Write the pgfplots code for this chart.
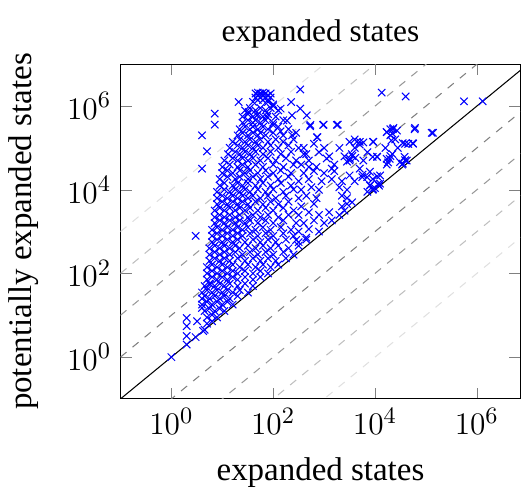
\documentclass[border=0pt]{standalone}
\usepackage{fontspec}
\setmainfont{Liberation Serif}
\usepackage{pgfplots}
\usepackage{pgfplotstable}
\pgfplotsset{compat=1.18}

\pgfplotstableread{
x y
28 7.9e5
35 9.0e5
45 7.9e5
56 9.0e5
71 7.9e5
89 9.0e5
126 7.9e5
25 5.6e5
32 6.4e5
40 5.6e5
50 6.4e5
63 5.6e5
79 6.4e5
112 5.6e5
25 4.0e5
32 4.6e5
40 4.0e5
45 4.6e5
56 4.0e5
71 4.6e5
100 4.0e5
158 4.6e5
22 2.8e5
28 3.2e5
35 2.8e5
40 3.2e5
50 2.8e5
63 3.2e5
79 2.8e5
126 3.2e5
200 2.8e5
20 2.0e5
25 2.3e5
32 2.0e5
40 2.3e5
50 2.0e5
56 2.3e5
71 2.0e5
100 2.3e5
158 2.0e5
282 2.3e5
16 1.4e5
22 1.6e5
28 1.4e5
35 1.6e5
45 1.4e5
56 1.6e5
79 1.4e5
112 1.6e5
158 1.4e5
251 1.6e5
14 1e5
20 1.15e5
25 1e5
32 1.15e5
40 1e5
50 1.15e5
63 1e5
89 1.15e5
126 1e5
200 1.15e5
316 1e5
13 7.1e4
18 8.1e4
22 7.1e4
28 8.1e4
35 7.1e4
45 8.1e4
63 7.1e4
89 8.1e4
141 7.1e4
224 8.1e4
398 7.1e4
11 5e4
16 5.7e4
20 5e4
25 5.7e4
32 5e4
40 5.7e4
56 5e4
79 5.7e4
112 5e4
178 5.7e4
282 5e4
10 3.5e4
14 4e4
20 3.5e4
25 4e4
32 3.5e4
45 4e4
63 3.5e4
100 4e4
158 3.5e4
251 4e4
501 3.5e4
10 2.5e4
12.6 2.9e4
16 2.5e4
22 2.9e4
28 2.5e4
35 2.9e4
50 2.5e4
71 2.9e4
100 2.5e4
141 2.9e4
224 2.5e4
8.9 1.8e4
12.6 2.05e4
18 1.8e4
22 2.05e4
32 1.8e4
40 2.05e4
56 1.8e4
79 2.05e4
126 1.8e4
200 2.05e4
8.9 1.26e4
11 1.45e4
16 1.26e4
20 1.45e4
25 1.26e4
32 1.45e4
45 1.26e4
63 1.45e4
89 1.26e4
141 1.45e4
224 1.26e4
7.9 8.9e3
11 1.02e4
14 8.9e3
18 1.02e4
22 8.9e3
28 1.02e4
35 8.9e3
50 1.02e4
71 8.9e3
100 1.02e4
158 8.9e3
251 1.02e4
7.9 6.3e3
10 7.2e3
12.6 6.3e3
16 7.2e3
20 6.3e3
25 7.2e3
32 6.3e3
40 7.2e3
56 6.3e3
79 7.2e3
112 6.3e3
178 7.2e3
7.9 4.5e3
10 5.2e3
12.6 4.5e3
16 5.2e3
20 4.5e3
25 5.2e3
32 4.5e3
45 5.2e3
63 4.5e3
89 5.2e3
126 4.5e3
200 5.2e3
7.1 3.2e3
8.9 3.7e3
11 3.2e3
14 3.7e3
18 3.2e3
22 3.7e3
28 3.2e3
35 3.7e3
50 3.2e3
71 3.7e3
100 3.2e3
158 3.7e3
251 3.2e3
7.1 2.2e3
8.9 2.5e3
11 2.2e3
14 2.5e3
18 2.2e3
22 2.5e3
32 2.2e3
40 2.5e3
56 2.2e3
79 2.5e3
126 2.2e3
200 2.5e3
7.1 1.6e3
8.9 1.85e3
11 1.6e3
14 1.85e3
18 1.6e3
22 1.85e3
28 1.6e3
35 1.85e3
50 1.6e3
71 1.85e3
100 1.6e3
158 1.85e3
282 1.6e3
6.3 1.1e3
7.9 1.27e3
10 1.1e3
12.6 1.27e3
16 1.1e3
20 1.27e3
25 1.1e3
32 1.27e3
45 1.1e3
63 1.27e3
89 1.1e3
141 1.27e3
224 1.1e3
6.3 790
7.9 910
10 790
12.6 910
16 790
20 910
25 790
35 910
50 790
71 910
100 790
158 910
251 790
6.3 560
7.9 645
10 560
12.6 645
16 560
20 645
28 560
40 645
56 560
79 645
112 560
178 645
316 560
447 645
5.6 400
7.1 460
8.9 400
11 460
14 400
18 460
22 400
32 460
45 400
63 460
89 400
126 460
200 400
316 460
5.6 282
7.1 325
8.9 282
11 325
14 282
18 325
25 282
35 325
50 282
71 325
100 282
158 325
251 282
5.6 200
7.1 230
8.9 200
11 230
14 200
20 230
28 200
40 230
56 200
79 230
112 200
178 230
5 141
6.3 162
7.9 141
10 162
12.6 141
16 162
22 141
32 162
45 141
63 162
89 141
126 162
5 100
6.3 115
7.9 100
10 115
12.6 100
16 115
20 100
28 115
40 100
56 115
79 100
5 71
6.3 82
7.9 71
10 82
12.6 71
16 82
20 71
28 82
40 71
56 82
4.5 50
5.6 57
7.1 50
8.9 57
11 50
14 57
20 50
28 57
40 50
4 35
5 40
6.3 35
7.9 40
10 35
12.6 40
16 35
22 40
32 35
4 25
4.5 29
5.6 25
7.1 29
8.9 25
11 29
14 25
20 29
4 18
5 21
6.3 18
7.9 21
10 18
12.6 21
16 18
4.5 12.6
5.6 14.5
7.1 12.6
8.9 14.5
11 12.6
5 8.9
6.3 10.2
7.9 8.9
5 6.3
6.3 7.2
4.5 4.5
1 1
2 2
2 3.2
2 5.5
2 8.6
3 3
3.2 7.2
4 15
4.2 4.2
5.8 55
3 790
4 2.0e5
5 8.3e4
4 3.2e4
7.1 3.6e5
7.1 6.6e5
45 2.0e6
50 1.8e6
56 2.0e6
63 1.8e6
71 2.0e6
79 1.8e6
50 1.4e6
63 1.4e6
79 1.4e6
56 1.6e6
71 1.6e6
89 1.6e6
50 2.1e6
63 2.1e6
79 1.26e6
45 1.6e6
89 2.0e6
100 1.1e6
40 1.26e6
21 1.25e6
340 2.5e6
225 1.25e6
1.35e4 2.1e6
4e4 1.7e6
5.6e5 1.3e6
1.3e6 1.3e6
100 1.0e6
140 8.7e5
235 6.0e5
340 8.7e5
458 6.0e5
33 7.2e5
48 6.0e5
76 5.5e5
186 4.5e5
530 3.3e5
980 3.6e5
1860 3.6e5
740 1.8e5
235 2.0e5
140 2.5e5
100 3.5e5
6.1e4 3.0e5
1.3e5 2.3e5
1.7e4 2.4e5
2.0e4 2.8e5
2.3e4 3.0e5
2.7e4 2.6e5
2.2e4 2.2e5
4400 1.4e5
5000 1.2e5
5900 1.35e5
9300 1.4e5
2.1e4 1.5e5
3.5e4 1.3e5
4.5e4 1.25e5
5.5e4 1.3e5
3200 5.5e4
3600 6.4e4
4100 5.8e4
9000 6.1e4
1.1e4 6.1e4
1.7e4 5.5e4
2.0e4 6.4e4
1.8e4 4.5e4
3.5e4 4.2e4
3.8e4 6.1e4
4.2e4 5.0e4
3.1e4 4.6e4
5700 2.3e4
7000 2.0e4
9000 1.8e4
1.1e4 2.1e4
8000 1.3e4
1e4 1.1e4
1.2e4 1.25e4
9000 1e4
398 2.5e4
631 2.8e4
1000 2.5e4
1585 2.8e4
316 1.6e4
501 1.8e4
891 1.6e4
1413 1.8e4
2239 1.6e4
355 1e4
562 1.15e4
794 1e4
1995 1.15e4
2818 1e4
316 6.3e3
447 7.2e3
708 6.3e3
2239 7.2e3
2818 6.3e3
355 4e3
631 4.6e3
2239 4e3
2818 4.6e3
316 2.5e3
501 2.9e3
794 2.5e3
1259 2.9e3
1995 2.5e3
398 1.6e3
631 1.85e3
1000 1.6e3
1413 1.85e3
316 1e3
501 1.15e3
794 1e3
282 631
447 720
3162 2.2e4
3981 1.6e4
5623 2.0e4
7943 1.26e4
7079 8913
1.26e4 1.4e4
3548 5012
2512 3162
5012 1.4e5
9120 1.4e5
3162 5e4
5888 5e4
1.1e4 6.2e4
1.95e4 5.5e4
1.7e4 2.4e5
2.24e4 2.8e5
3.9e4 1.26e5
5.6e4 1.26e5
3.9e4 5.1e4
6e4 2.8e5
1.38e5 2.3e5
2818 4.7e4
5012 3.2e4
7943 2.7e4
1.26e4 2.2e4
1.7e4 4e4
3.4e4 4e4
9120 1.05e4
1.15e4 1.38e4
955 3.55e5
1778 3.55e5
537 3.55e5
724 1.8e5
2e4 2e5
2.5e4 1.6e5
1.6e4 1e5
2.8e4 1e5
2.2e4 7.1e4
4000 1e5
3500 7.1e4
7100 7.9e4
3981 1.6e5
3162 1.4e5
2000 1e5
2512 6.3e4
1585 4e4
1259 6.3e4
1000 1e5
398 1e5
631 1.26e5
794 7.9e4
1122 5.6e4
501 5e4
355 4e4
708 3.5e4
1413 3.2e4
447 7.1e4
}\scatterdata

\begin{document}
\begin{tikzpicture}
\begin{axis}[
  scale only axis,
  width=153pt, height=128pt,
  xmode=log, ymode=log,
  xmin=0.1, xmax=7.2e6, ymin=0.1, ymax=1e7,
  xtick={1,100,10000,1000000}, ytick={1,100,10000,1000000},
  xminorticks=false, yminorticks=false,
  title={expanded states},
  title style={font=\fontsize{12}{14}\selectfont, inner ysep=7.5pt, yshift=-7.5pt},
  xlabel={expanded states},
  ylabel={potentially expanded states},
  label style={font=\fontsize{12.6}{15}\selectfont},
  xlabel style={yshift=-2pt},
  ylabel shift=4pt,
  tick label style={font=\fontsize{12.6}{15}\selectfont},
]
\addplot[black!12, dashed] coordinates {(1e-6,1e-2) (1e8,1e12)};
\addplot[black!25, dashed] coordinates {(1e-6,1e-3) (1e8,1e11)};
\addplot[black!40, dashed] coordinates {(1e-6,1e-4) (1e8,1e10)};
\addplot[black!50, dashed] coordinates {(1e-6,1e-5) (1e8,1e9)};
\addplot[black!50, dashed] coordinates {(1e-6,1e-7) (1e8,1e7)};
\addplot[black!40, dashed] coordinates {(1e-6,1e-8) (1e8,1e6)};
\addplot[black!25, dashed] coordinates {(1e-6,1e-9) (1e8,1e5)};
\addplot[black!12, dashed] coordinates {(1e-6,1e-10) (1e8,1e4)};
\addplot[blue, only marks, mark=x] table[x=x, y=y] {\scatterdata};
\addplot[black] coordinates {(1e-6,1e-6) (1e8,1e8)};
\end{axis}
\end{tikzpicture}
\end{document}
